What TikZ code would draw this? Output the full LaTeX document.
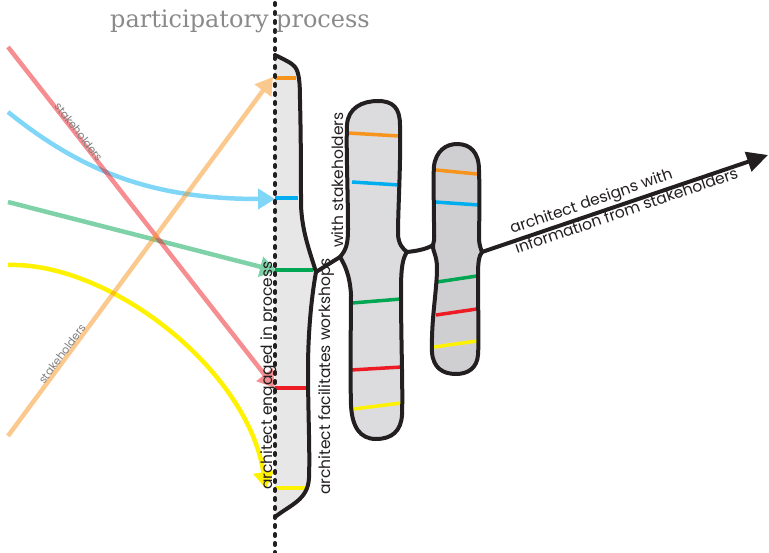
\documentclass[tikz,border=0pt]{standalone}
\usepackage{fontspec}
\setmainfont{Poppins}
\newfontfamily\titlefont{DejaVu Serif}
\usetikzlibrary{arrows.meta}
\definecolor{ink}{HTML}{231F20}
\definecolor{labelgray}{HTML}{7F7F7F}
\definecolor{titlegray}{HTML}{8A8A8A}
\definecolor{cOrange}{HTML}{F7941D}
\definecolor{cBlue}{HTML}{00AEEF}
\definecolor{cGreen}{HTML}{00A651}
\definecolor{cRed}{HTML}{ED1C24}
\definecolor{cYellow}{HTML}{FFF200}
\definecolor{fillA}{HTML}{E7E7E8}
\definecolor{fillB}{HTML}{DCDCDE}
\definecolor{fillC}{HTML}{CFCFD1}
\tikzset{
  flow/.style={line width=4.5pt, -{Triangle[length=17pt,width=20pt]}},
  blob/.style={line width=4pt, draw=ink, line join=round},
  stripe/.style={line width=3.5pt},
  tag/.style={font=\fontsize{11}{13}\selectfont, text=labelgray, inner sep=0pt},
  caption/.style={font=\fontsize{15.5}{18}\selectfont, text=ink, inner sep=0pt},
}
\begin{document}
\begin{tikzpicture}[x=1pt,y=-1pt]
\useasboundingbox (0,0) rectangle (769,553);

% free ends of the stakeholder flows
\coordinate (sRed)    at (8,47);
\coordinate (sBlue)   at (8,112);
\coordinate (sGreen)  at (8,202);
\coordinate (sYellow) at (8,265);
\coordinate (sOrange) at (8,436);
\coordinate (eRed)    at (275,388);
\coordinate (eBlue)   at (275,199);
\coordinate (eGreen)  at (277,271);
\coordinate (eYellow) at (266,489);
\coordinate (eOrange) at (273,77);

% stakeholder flows into the process
\draw[flow, cYellow] (sYellow) .. controls (110,262) and (248,370) .. (eYellow);
\begin{scope}[transparency group, opacity=0.5]
  \draw[flow, cBlue] (sBlue) .. controls (80,170) and (150,199) .. (eBlue);
\end{scope}
\begin{scope}[transparency group, opacity=0.5]
  \draw[flow, cGreen] (sGreen) -- (eGreen);
\end{scope}
\begin{scope}[transparency group, opacity=0.5]
  \draw[flow, cRed] (sRed) -- (eRed);
\end{scope}
\begin{scope}[transparency group, opacity=0.5]
  \draw[flow, cOrange] (sOrange) -- (eOrange);
\end{scope}
\path (sRed) -- node[tag, pos=0.255, sloped, above=-1pt] (tagRed) {stakeholders} (eRed);
\path (sOrange) -- node[tag, pos=0.22, sloped, above=1pt] (tagOrange) {stakeholders} (eOrange);

% stage 1: architect engaged in process
\path[fill=fillA] (275,55) .. controls (285,60) and (292,63) .. (295,67)
  .. controls (299,72) and (300,82) .. (300,100)
  .. controls (301,140) and (301,180) .. (301,205)
  .. controls (302,232) and (310,252) .. (316,272)
  .. controls (311,300) and (308,335) .. (308,370)
  .. controls (308,410) and (310,450) .. (309,478)
  .. controls (308,500) and (290,505) .. (275,517) -- cycle;
\draw[stripe, cOrange] (275,78) -- (296,78);
\draw[stripe, cBlue]   (275,198) -- (298,198);
\draw[stripe, cGreen]  (275,270) -- (313,270);
\draw[stripe, cRed]    (275,388) -- (306,388);
\draw[stripe, cYellow] (275,488) -- (306,488);
\draw[blob, line cap=round] (275,55) .. controls (285,60) and (292,63) .. (295,67)
  .. controls (299,72) and (300,82) .. (300,100)
  .. controls (301,140) and (301,180) .. (301,205)
  .. controls (302,232) and (310,252) .. (316,272)
  .. controls (311,300) and (308,335) .. (308,370)
  .. controls (308,410) and (310,450) .. (309,478)
  .. controls (308,500) and (290,505) .. (275,517);
\coordinate (jA) at (316,272);

% stage 2: workshops with stakeholders
\coordinate (jB) at (340,257);
\coordinate (jC) at (407,252);
\fill[fillB] (jB) .. controls (346,250) and (348,244) .. (348,230)
  .. controls (348,190) and (346,150) .. (347,125)
  .. controls (348,108) and (362,101) .. (378,101)
  .. controls (393,101) and (400,108) .. (400,125)
  .. controls (401,160) and (398,210) .. (398,233)
  .. controls (398,244) and (403,249) .. (jC)
  .. controls (403,258) and (401,266) .. (401,290)
  .. controls (401,340) and (403,390) .. (402,415)
  .. controls (401,431) and (392,439) .. (376,439)
  .. controls (360,439) and (352,427) .. (351,405)
  .. controls (350,370) and (351,320) .. (351,295)
  .. controls (350,276) and (345,265) .. (jB) -- cycle;
\draw[stripe, cOrange] (348,133) -- (399,136);
\draw[stripe, cBlue]   (352,182) -- (399,185);
\draw[stripe, cGreen]  (352,303) -- (401,299);
\draw[stripe, cRed]    (351,370) -- (402,367);
\draw[stripe, cYellow] (353,409) -- (401,403);
\draw[blob] (jB) .. controls (346,250) and (348,244) .. (348,230)
  .. controls (348,190) and (346,150) .. (347,125)
  .. controls (348,108) and (362,101) .. (378,101)
  .. controls (393,101) and (400,108) .. (400,125)
  .. controls (401,160) and (398,210) .. (398,233)
  .. controls (398,244) and (403,249) .. (jC)
  .. controls (403,258) and (401,266) .. (401,290)
  .. controls (401,340) and (403,390) .. (402,415)
  .. controls (401,431) and (392,439) .. (376,439)
  .. controls (360,439) and (352,427) .. (351,405)
  .. controls (350,370) and (351,320) .. (351,295)
  .. controls (350,276) and (345,265) .. (jB) -- cycle;

% stage 3: architect designs
\coordinate (jD) at (433,245);
\coordinate (jE) at (482,252);
\fill[fillC] (jD) .. controls (435,239) and (434,234) .. (434,224)
  .. controls (434,200) and (433,182) .. (434,166)
  .. controls (436,151) and (446,144) .. (457,144)
  .. controls (470,144) and (479,152) .. (479,170)
  .. controls (480,200) and (479,228) .. (479,238)
  .. controls (479,245) and (481,249) .. (jE)
  .. controls (479,256) and (478,262) .. (478,275)
  .. controls (478,310) and (479,340) .. (478,355)
  .. controls (477,368) and (468,374) .. (456,374)
  .. controls (443,374) and (433,368) .. (432,352)
  .. controls (431,320) and (437,290) .. (437,268)
  .. controls (437,255) and (432,250) .. (jD) -- cycle;
\draw[stripe, cOrange] (436,170) -- (477,174);
\draw[stripe, cBlue]   (435,202) -- (479,205);
\draw[stripe, cGreen]  (437,282) -- (477,276);
\draw[stripe, cRed]    (436,315) -- (477,309);
\draw[stripe, cYellow] (434,347) -- (477,341);
\draw[blob] (jD) .. controls (435,239) and (434,234) .. (434,224)
  .. controls (434,200) and (433,182) .. (434,166)
  .. controls (436,151) and (446,144) .. (457,144)
  .. controls (470,144) and (479,152) .. (479,170)
  .. controls (480,200) and (479,228) .. (479,238)
  .. controls (479,245) and (481,249) .. (jE)
  .. controls (479,256) and (478,262) .. (478,275)
  .. controls (478,310) and (479,340) .. (478,355)
  .. controls (477,368) and (468,374) .. (456,374)
  .. controls (443,374) and (433,368) .. (432,352)
  .. controls (431,320) and (437,290) .. (437,268)
  .. controls (437,255) and (432,250) .. (jD) -- cycle;

% links between the stages and the outgoing design arrow
\draw[blob] (jA) -- (jB);
\draw[blob] (jC) .. controls (417,251) and (427,249) .. (jD);
\coordinate (out) at (768,155);
\draw[blob, -{Triangle[length=21pt,width=20pt]}] (jE) -- (out);

% boundary of the participatory process
\draw[ink, line width=4pt, line cap=round, dash pattern=on 2pt off 7pt] (275,3) -- (275,553);
\node[font=\titlefont\fontsize{24}{28}\selectfont, text=titlegray, anchor=base, inner sep=0pt] (title) at (240,28) {participatory process};

% stage captions
\node[caption, rotate=90, anchor=base west] (capA) at (272,490) {architect engaged in process};
\node[caption, rotate=90, anchor=base west] (capB1) at (330,495) {architect facilitates workshops};
\node[caption, rotate=90, anchor=base west] (capB2) at (343,248) {with stakeholders};
\node[caption, rotate=19, anchor=base west] (capC1) at (512,234) {architect designs with};
\node[caption, rotate=19, anchor=base west] (capC2) at (517,254) {information from stakeholders};
\end{tikzpicture}
\end{document}
